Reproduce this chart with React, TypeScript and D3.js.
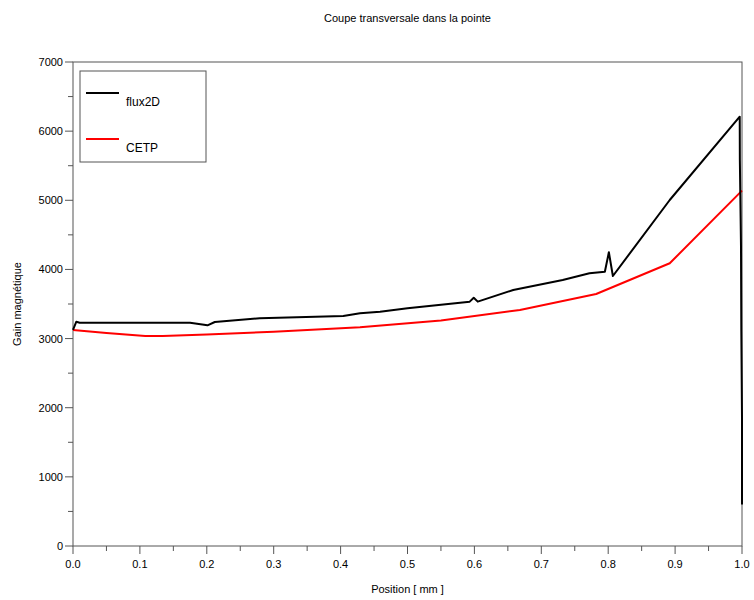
import React from "react";
import * as d3 from "d3";

const title = "Coupe transversale dans la pointe";
const xLabel = "Position [ mm ]";
const yLabel = "Gain magnétique";

const fluxX = [0, 0.005, 0.01, 0.175, 0.201, 0.212, 0.279, 0.404, 0.429, 0.459, 0.5, 0.593, 0.599, 0.605, 0.658, 0.732, 0.772, 0.795, 0.801, 0.807, 0.892, 0.9966, 0.9968, 0.9985, 0.999, 1.0, 1.0];
const fluxY = [3124, 3244, 3230, 3230, 3192, 3240, 3293, 3326, 3366, 3389, 3440, 3534, 3591, 3534, 3703, 3847, 3944, 3967, 4248, 3905, 5004, 6209, 5580, 4330, 3100, 1850, 600];

const cetpX = [0, 0.05, 0.108, 0.134, 0.2, 0.3, 0.429, 0.55, 0.668, 0.782, 0.892, 1.0];
const cetpY = [3124, 3080, 3037, 3037, 3060, 3100, 3163, 3260, 3413, 3645, 4089, 5140];

const xMajor = [0, 0.1, 0.2, 0.3, 0.4, 0.5, 0.6, 0.7, 0.8, 0.9, 1.0];
const xMinor = [0.05, 0.15, 0.25, 0.35, 0.45, 0.55, 0.65, 0.75, 0.85, 0.95];
const yMajor = [0, 1000, 2000, 3000, 4000, 5000, 6000, 7000];
const yMinor = [500, 1500, 2500, 3500, 4500, 5500, 6500];

const seriesNames = ["flux2D", "CETP"];
const seriesColors = ["#000000", "#ff0000"];

export default function App() {
  const W = 754, H = 600;
  const left = 73, right = 742, top = 62, bottom = 546;
  const x = d3.scaleLinear().domain([0, 1]).range([left, right]);
  const y = d3.scaleLinear().domain([0, 7000]).range([bottom, top]);
  const line = d3.line<[number, number]>().x(d => x(d[0])).y(d => y(d[1]));
  const flux = fluxX.map((v, i) => [v, fluxY[i]] as [number, number]);
  const cetp = cetpX.map((v, i) => [v, cetpY[i]] as [number, number]);
  const axisColor = "#555";
  const font = "'Liberation Sans', Arial, sans-serif";
  return (
    <svg width={W} height={H} style={{ position: "absolute", left: 0, top: 0, background: "#fff" }} fontFamily={font}>
      <rect x={0} y={0} width={W} height={H} fill="#fff" />
      <text x={(left + right) / 2} y={22} textAnchor="middle" fontSize={11}>{title}</text>
      <rect x={left} y={top} width={right - left} height={bottom - top} fill="none" stroke={axisColor} strokeWidth={1} />
      {xMajor.map(t => (
        <g key={"xm" + t}>
          <line x1={x(t)} x2={x(t)} y1={bottom} y2={bottom + 8} stroke={axisColor} />
          <text x={x(t)} y={bottom + 22} textAnchor="middle" fontSize={11}>{t.toFixed(1)}</text>
        </g>
      ))}
      {xMinor.map(t => (
        <line key={"xn" + t} x1={x(t)} x2={x(t)} y1={bottom} y2={bottom + 5} stroke={axisColor} />
      ))}
      {yMajor.map(t => (
        <g key={"ym" + t}>
          <line x1={left - 8} x2={left} y1={y(t)} y2={y(t)} stroke={axisColor} />
          <text x={left - 10} y={y(t) + 4} textAnchor="end" fontSize={11}>{t}</text>
        </g>
      ))}
      {yMinor.map(t => (
        <line key={"yn" + t} x1={left - 5} x2={left} y1={y(t)} y2={y(t)} stroke={axisColor} />
      ))}
      <text x={(left + right) / 2} y={593} textAnchor="middle" fontSize={11}>{xLabel}</text>
      <text transform={`translate(21, ${(top + bottom) / 2}) rotate(-90)`} textAnchor="middle" fontSize={11}>{yLabel}</text>
      <path d={line(cetp) || ""} fill="none" stroke={seriesColors[1]} strokeWidth={2} strokeLinejoin="round" />
      <path d={line(flux) || ""} fill="none" stroke={seriesColors[0]} strokeWidth={2} strokeLinejoin="round" />
      <rect x={80} y={71} width={126} height={91} fill="#fff" stroke={axisColor} />
      {seriesNames.map((n, i) => (
        <g key={n}>
          <line x1={86} x2={119} y1={93 + i * 46} y2={93 + i * 46} stroke={seriesColors[i]} strokeWidth={2} />
          <text x={126} y={106 + i * 46} fontSize={12}>{n}</text>
        </g>
      ))}
    </svg>
  );
}
